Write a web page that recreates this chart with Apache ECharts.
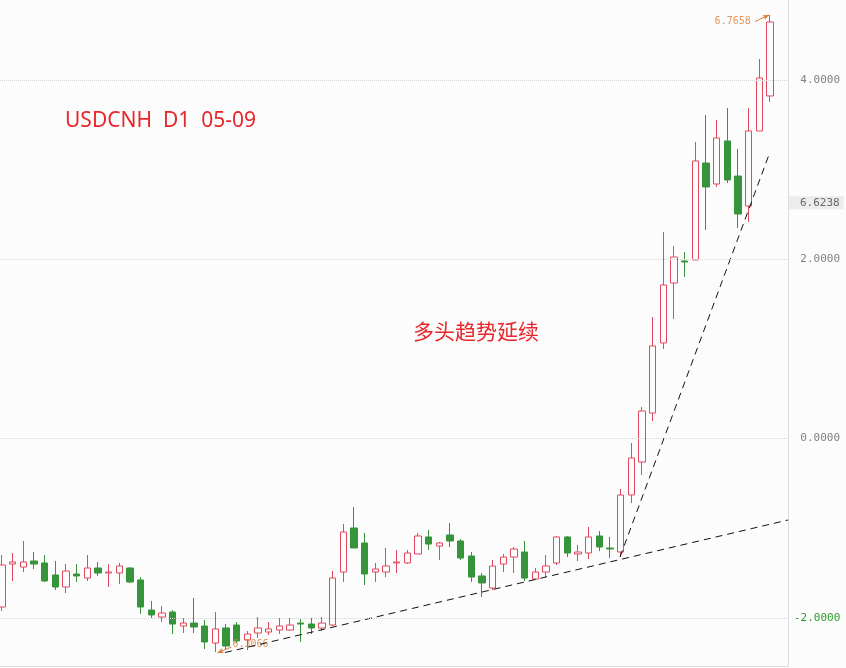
<!DOCTYPE html>
<html><head><meta charset="utf-8">
<script src="https://cdn.jsdelivr.net/npm/echarts@6/dist/echarts.min.js"></script>
<style>html,body{margin:0;padding:0;background:#fcfcfc}#c{width:846px;height:668px}</style>
</head><body><div id="c"></div>
<script>
// Daily candles, values in the chart's own axis units (labels 4 / 2 / 0 / -2)
const opens  = [-1.879,-1.400,-1.433,-1.366,-1.388,-1.522,-1.656,-1.511,-1.556,-1.444,-1.500,-1.500,-1.444,-1.578,-1.913,-1.991,-1.935,-2.091,-2.058,-2.091,-2.281,-2.113,-2.080,-2.247,-2.169,-2.158,-2.136,-2.136,-2.058,-2.069,-2.113,-2.080,-1.489,-0.998,-1.165,-1.489,-1.489,-1.388,-1.388,-1.288,-1.098,-1.199,-1.076,-1.143,-1.310,-1.533,-1.667,-1.400,-1.322,-1.266,-1.567,-1.489,-1.388,-1.098,-1.288,-1.277,-1.087,-1.221,-1.266,-0.630,-0.262,0.284,1.065,1.734,1.979,1.991,3.072,2.838,3.318,2.927,2.593,3.429,3.820];
const closes = [-1.411,-1.377,-1.377,-1.400,-1.589,-1.656,-1.478,-1.533,-1.444,-1.500,-1.489,-1.422,-1.600,-1.879,-1.968,-1.946,-2.069,-2.058,-2.102,-2.269,-2.124,-2.314,-2.258,-2.180,-2.113,-2.124,-2.091,-2.080,-2.069,-2.113,-2.058,-1.556,-1.043,-1.221,-1.511,-1.455,-1.422,-1.377,-1.277,-1.087,-1.177,-1.165,-1.143,-1.333,-1.545,-1.611,-1.422,-1.322,-1.232,-1.556,-1.489,-1.422,-1.098,-1.277,-1.266,-1.098,-1.210,-1.232,-0.630,-0.217,0.307,1.032,1.712,2.024,1.968,3.095,2.805,3.351,2.883,2.504,3.429,4.020,4.645];
const lows   = [-1.924,-1.589,-1.489,-1.455,-1.600,-1.690,-1.723,-1.600,-1.589,-1.533,-1.656,-1.623,-1.611,-1.957,-2.002,-2.046,-2.180,-2.169,-2.169,-2.347,-2.381,-2.359,-2.281,-2.359,-2.225,-2.191,-2.180,-2.147,-2.269,-2.180,-2.147,-2.091,-1.600,-1.221,-1.634,-1.600,-1.545,-1.500,-1.400,-1.288,-1.243,-1.355,-1.210,-1.355,-1.600,-1.768,-1.690,-1.489,-1.500,-1.589,-1.578,-1.545,-1.411,-1.322,-1.366,-1.344,-1.255,-1.333,-1.322,-0.719,-0.407,0.195,0.998,1.333,1.801,1.991,2.325,2.805,2.849,2.347,2.414,3.429,3.753];
const highs  = [-1.299,-1.277,-1.143,-1.266,-1.299,-1.366,-1.400,-1.400,-1.299,-1.377,-1.400,-1.388,-1.433,-1.545,-1.812,-1.868,-1.913,-2.002,-1.779,-2.024,-1.935,-2.069,-2.046,-2.147,-1.991,-2.046,-2.002,-2.002,-2.002,-2.002,-1.991,-1.478,-0.953,-0.764,-1.054,-1.388,-1.221,-1.243,-1.243,-1.054,-1.020,-1.154,-0.942,-1.121,-1.266,-1.500,-1.355,-1.288,-1.210,-1.143,-1.444,-1.299,-1.087,-1.087,-1.188,-0.987,-1.032,-1.098,-0.563,-0.050,0.351,1.355,2.303,2.147,2.080,3.307,3.608,3.552,3.686,3.229,3.686,4.232,4.723];

const yTicks = [0, 2, 4];      // gray axis labels
const yTickLow = -2;           // green axis label
const lastPrice = 2.626, lastPriceText = '6.6238';
const trendLow  = [[20.9, -2.387], [73.69, -0.909]];
const trendHigh = [[57.94, -1.3215], [72, 3.195]];
const highNote = {text: '6.7658', at: [68.5, 4.656], arrow: [[70.6, 4.650], [71.9, 4.723]]};
const lowNote  = {text: '6.3066', at: [23.3, -2.292], arrow: [[21.5, -2.325], [20.2, -2.390]]};

const chart = echarts.init(document.getElementById('c'), null, {renderer: 'canvas'});
const candles = opens.map((o, i) => [i, o, closes[i], lows[i], highs[i]]);
const orange = '#e07a30';
const mono = 'DejaVu Sans Mono';
const clear = 'rgba(0,0,0,0)';

chart.setOption({
  animation: false,
  backgroundColor: '#fcfcfc',
  title: [
    {text: 'USDCNH  D1  05-09', left: 60, top: 106,
     textStyle: {color: '#e8262b', fontSize: 21, fontWeight: 'normal', fontFamily: 'Noto Sans'}},
    {text: '多头趋势延续', left: 408, top: 316,
     textStyle: {color: '#e8262b', fontSize: 21, fontWeight: 'normal', fontFamily: 'Noto Sans CJK SC'}}
  ],
  grid: {left: 0, right: 58, top: 0, bottom: 2},
  xAxis: {type: 'value', min: -0.1875, max: 73.6875,
    axisLine: {show: true, onZero: false, lineStyle: {color: '#dcdcdc'}},
    axisTick: {show: false}, axisLabel: {show: false}, splitLine: {show: false}},
  yAxis: {type: 'value', position: 'right', min: -2.537, max: 4.890, scale: true,
    axisLine: {show: true, onZero: false, lineStyle: {color: '#dcdcdc'}},
    axisTick: {show: false}, splitLine: {show: false},
    axisLabel: {customValues: yTicks, align: 'right', margin: 52, color: '#808080',
      fontFamily: mono, fontSize: 11,
      formatter: v => Number(v).toFixed(4)}},
  series: [
    {type: 'candlestick', data: candles, barWidth: 7,
     itemStyle: {color: '#fcfcfc', color0: '#36943a', borderColor: '#e04a5e', borderColor0: '#36943a', borderWidth: 1},
     markLine: {silent: true, symbol: ['none', 'none'], label: {show: false},
       lineStyle: {type: 'dotted', color: '#d4d4d4', width: 1},
       data: yTicks.map(v => ({yAxis: v})).concat([
         {yAxis: yTickLow,
          label: {show: true, position: 'end', distance: 6, formatter: yTickLow.toFixed(4),
            color: '#2a9a2a', fontFamily: mono, fontSize: 11}},
         {yAxis: lastPrice, lineStyle: {color: clear, width: 1},
          label: {show: true, position: 'end', distance: 1, formatter: lastPriceText,
            backgroundColor: '#ececec', color: '#666', fontFamily: mono, fontSize: 11,
            padding: [1, 4, 1, 11]}}])}},
    {type: 'line', data: trendLow, symbol: 'none', silent: true,
     lineStyle: {color: '#111', width: 1, type: [7, 5]}},
    {type: 'line', data: trendHigh, symbol: 'none', silent: true,
     lineStyle: {color: '#111', width: 1, type: [7, 5]}},
    {type: 'scatter', symbolSize: 1, itemStyle: {color: clear}, silent: true,
     label: {show: true, position: 'inside', color: orange, fontFamily: mono, fontSize: 10,
       formatter: p => p.data.name},
     data: [
       {name: highNote.text, value: highNote.at},
       {name: lowNote.text, value: lowNote.at}
     ],
     markLine: {silent: true, symbol: ['none', 'arrow'], symbolSize: [4, 6], label: {show: false},
       lineStyle: {color: orange, width: 1, type: 'solid'},
       data: [
         [{coord: highNote.arrow[0]}, {coord: highNote.arrow[1]}],
         [{coord: lowNote.arrow[0]}, {coord: lowNote.arrow[1]}]
       ]}}
  ]
});
</script></body></html>
